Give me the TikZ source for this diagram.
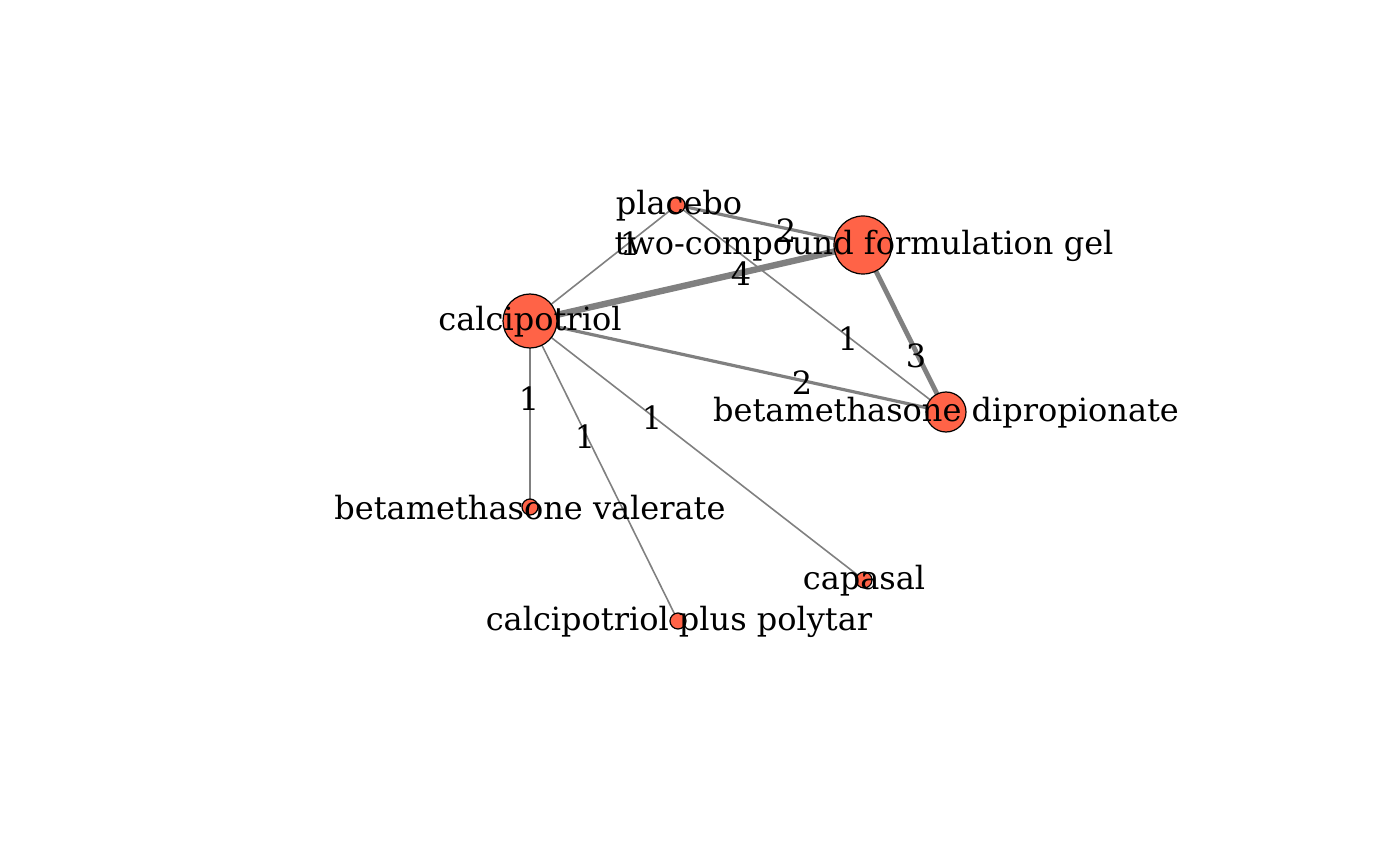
\documentclass[tikz,border=0pt]{standalone}
\usepackage{fontspec}
\setmainfont{DejaVu Serif}
\begin{document}
\begin{tikzpicture}[x=0.75pt,y=-0.75pt,
  vert/.style={circle,draw=black,line width=0.9pt,fill=nodered,inner sep=0pt,minimum size=#1},
  lab/.style={font=\fontsize{24}{29}\selectfont,inner sep=0pt,anchor=center},
  edge/.style={draw=edgegray,line width=#1},
  elab/.style={font=\fontsize{24}{29}\selectfont,inner sep=0pt}]
\definecolor{nodered}{HTML}{FF6347}
\definecolor{edgegray}{HTML}{808080}
\useasboundingbox (0,0) rectangle (1400,866);
% vertex positions
\coordinate (pl) at (677,205);
\coordinate (tc) at (863,245);
\coordinate (ca) at (530,321);
\coordinate (bd) at (946,412);
\coordinate (bv) at (530,507);
\coordinate (cs) at (864,580);
\coordinate (cp) at (678,621);
% edges
\path[edge=2.4pt] (pl) -- (tc);
\path[edge=1.2pt] (pl) -- (ca);
\path[edge=1.2pt] (pl) -- (bd);
\path[edge=4.8pt] (ca) -- (tc);
\path[edge=2.4pt] (ca) -- (bd);
\path[edge=3.6pt] (tc) -- (bd);
\path[edge=1.2pt] (ca) -- (bv);
\path[edge=1.2pt] (ca) -- (cp);
\path[edge=1.2pt] (ca) -- (cs);
% vertices on top
\node[vert=12pt] (vpl) at (pl) {};
\node[vert=43.5pt] (vtc) at (tc) {};
\node[vert=40.5pt] (vca) at (ca) {};
\node[vert=30pt] (vbd) at (bd) {};
\node[vert=12pt] (vbv) at (bv) {};
\node[vert=12pt] (vcs) at (cs) {};
\node[vert=12pt] (vcp) at (cp) {};
% edge labels
\node[elab] (l1) at (786,231) {2};
\node[elab] (l2) at (630,244) {1};
\node[elab] (l3) at (848,339) {1};
\node[elab] (l4) at (741,274) {4};
\node[elab] (l5) at (802,383) {2};
\node[elab] (l6) at (916,356) {3};
\node[elab] (l7) at (529,399) {1};
\node[elab] (l8) at (585,437) {1};
\node[elab] (l9) at (652,418) {1};
% vertex labels
\node[lab] (tpl) at (679,206) {placebo};
\node[lab] (ttc) at (864,246) {two-compound formulation gel};
\node[lab] (tca) at (530,322) {calcipotriol};
\node[lab] (tbd) at (946,413) {betamethasone dipropionate};
\node[lab] (tbv) at (530,508) {betamethasone valerate};
\node[lab] (tcs) at (864,581) {capasal};
\node[lab] (tcp) at (679,622) {calcipotriol plus polytar};
\end{tikzpicture}
\end{document}
